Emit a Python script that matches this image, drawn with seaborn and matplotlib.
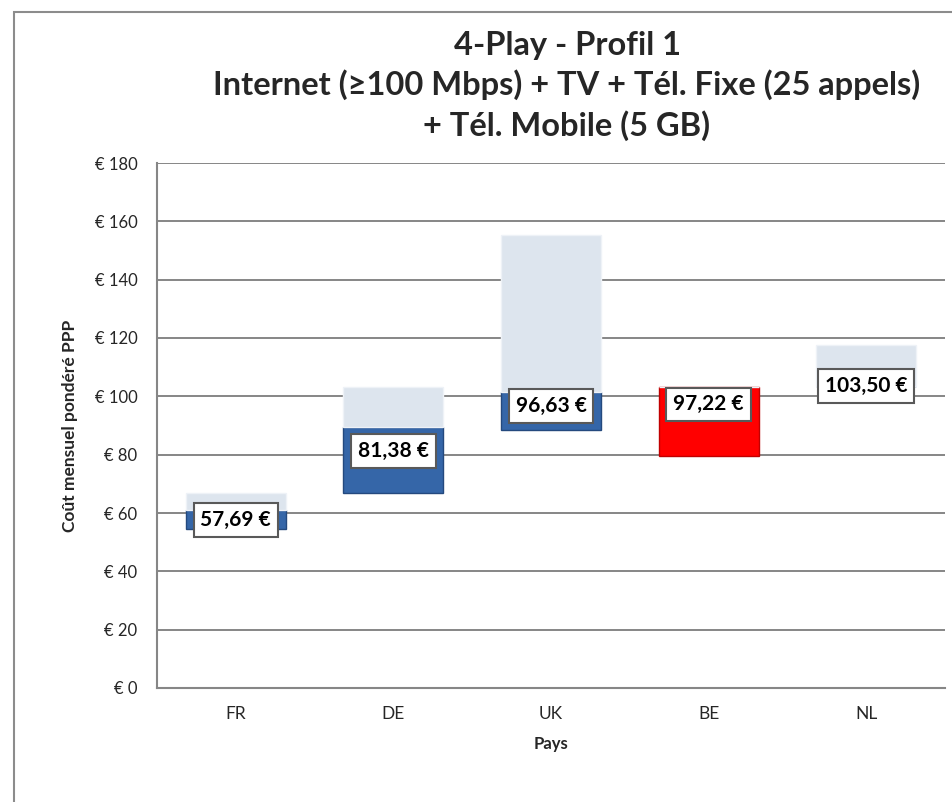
import pandas as pd
import seaborn as sns
import matplotlib.pyplot as plt
from matplotlib.patches import Rectangle

# données
pays = ["FR", "DE", "UK", "BE", "NL"]
cout_min = [54.5, 66.9, 88.5, 79.5, 103.5]
cout_fonce = [61.0, 89.5, 101.5, 103.2, 103.5]
cout_max = [66.8, 103.2, 155.3, 103.2, 117.6]
cout_moyen = [57.69, 81.38, 96.63, 97.22, 103.50]
y_ticks = [0, 20, 40, 60, 80, 100, 120, 140, 160, 180]

titre = ("4-Play - Profil 1\n"
         "Internet (\u2265100 Mbps) + TV + Tél. Fixe (25 appels)\n"
         "+ Tél. Mobile (5 GB)")

sns.set_theme(style="white")
plt.rcParams["font.family"] = ["Lato", "DejaVu Sans"]

df = pd.DataFrame({"pays": pays, "min": cout_min, "fonce": cout_fonce,
                   "max": cout_max, "moyen": cout_moyen})
df["h_fonce"] = df["fonce"] - df["min"]
df["h_clair"] = df["max"] - df["fonce"]

fig = plt.figure(figsize=(9.52, 8.02), dpi=100)
ax = fig.add_axes([157 / 952, 1 - 688 / 802, 788 / 952, 525 / 802])

# cadre autour du graphique
fig.patches.append(Rectangle((14 / 952, -0.01), 1.0, 1 - 12 / 802 + 0.01,
                             transform=fig.transFigure, fill=False,
                             edgecolor="#8c8c8c", lw=1.5))

w = 0.635
# segment foncé (min -> ...)
sns.barplot(data=df, x="pays", y="h_fonce", bottom=df["min"].to_numpy(),
            color="#3566a8", edgecolor="#24497e", linewidth=1.0,
            width=w, saturation=1, ax=ax, zorder=3)
for p, c in zip(ax.patches, pays):
    if c == "BE":
        p.set_facecolor("#ff0000")
        p.set_edgecolor("#c00000")
# segment clair (... -> max)
sns.barplot(data=df, x="pays", y="h_clair", bottom=df["fonce"].to_numpy(),
            color="#dde5ee", edgecolor="#eef2f7", linewidth=1.0,
            width=w, saturation=1, ax=ax, zorder=3)

# étiquettes de valeur
for i, v in enumerate(cout_moyen):
    txt = f"{v:.2f}".replace(".", ",") + " \u20ac"
    ax.text(i, v, txt, ha="center", va="center", fontsize=15,
            fontweight="bold", color="black", zorder=5,
            bbox=dict(boxstyle="square,pad=0.33", fc="white",
                      ec="#595959", lw=1.5))

ax.set_xlim(-0.5, 4.5)
ax.set_ylim(0, 180)
ax.set_yticks(y_ticks)
ax.set_yticklabels([f"\u20ac {t}" for t in y_ticks])
ax.yaxis.grid(True, color="#868686", lw=1.4)
ax.set_axisbelow(True)
for s in ["top", "right"]:
    ax.spines[s].set_visible(False)
for s in ["left", "bottom"]:
    ax.spines[s].set_color("#868686")
    ax.spines[s].set_linewidth(1.5)
ax.tick_params(axis="y", length=0, pad=14, labelsize=12, labelcolor="#262626")
ax.tick_params(axis="x", length=0, pad=13, labelsize=12.5, labelcolor="#262626")

ax.set_xlabel("Pays", fontsize=12, fontweight="bold", labelpad=10)
ax.set_ylabel("Coût mensuel pondéré PPP", fontsize=12.5, fontweight="bold",
              labelpad=12)

fig.text(567 / 952, 1 - 86 / 802, titre, ha="center", va="center",
         fontsize=23.5, fontweight="bold", linespacing=1.37)

fig.savefig("out.png", dpi=100)
